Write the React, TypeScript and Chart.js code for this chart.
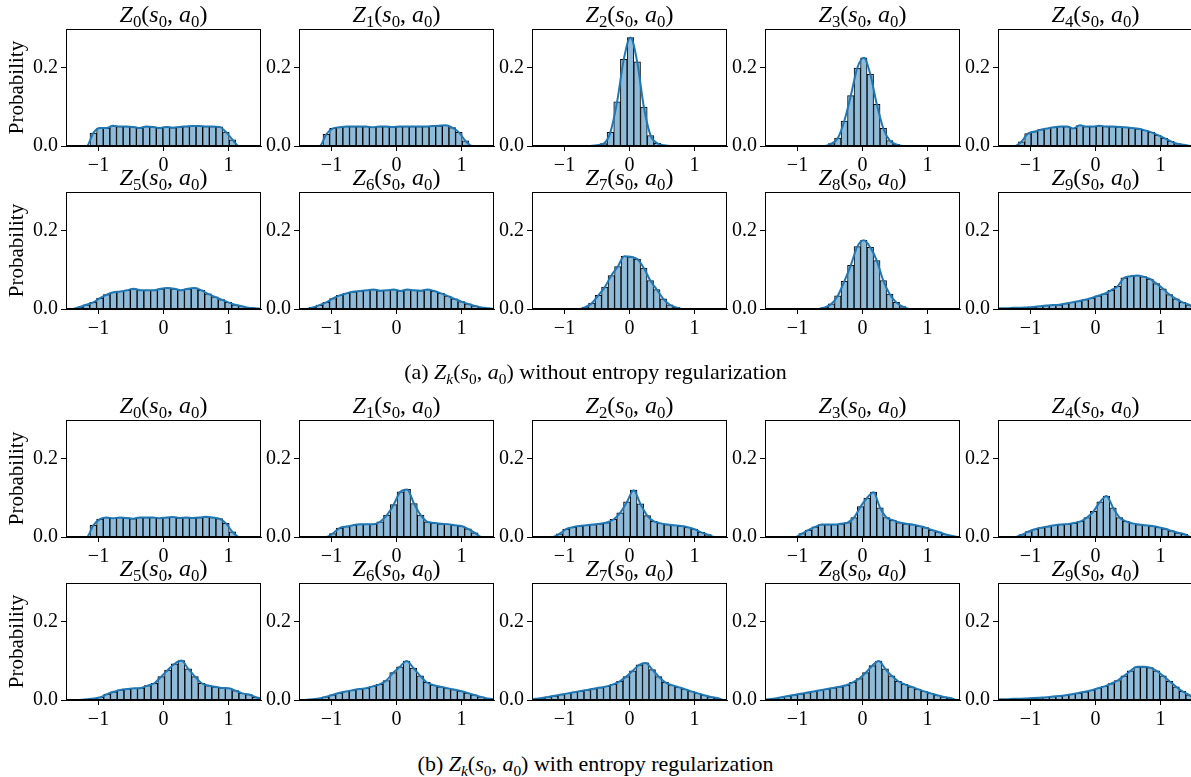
import React, { useEffect, useRef } from 'react';
import { Chart, registerables } from 'chart.js';
Chart.register(...registerables);

// ---------- axes ----------
const X_TICKS = [-1, 0, 1];
const Y_TICKS = [0, 0.2];
const X_MIN = -1.5;
const X_MAX = 1.5;
const Y_MIN = 0;
const Y_MAX = 0.3;
const TITLE_K = [0, 1, 2, 3, 4, 5, 6, 7, 8, 9];
const CAPTION_A = 'without entropy regularization';
const CAPTION_B = 'with entropy regularization';

// ---------- (a) without entropy regularization ----------
const A0_START = -1.08; const A0_WIDTH = 0.102;
const A0 = [0.033, 0.046, 0.046, 0.052, 0.05, 0.05, 0.049, 0.046, 0.05, 0.049, 0.046, 0.049, 0.047, 0.049, 0.05, 0.051, 0.051, 0.05, 0.05, 0.049, 0.036, 0.016];
const A1_START = -1.08; const A1_WIDTH = 0.102;
const A1 = [0.03, 0.045, 0.048, 0.05, 0.05, 0.05, 0.05, 0.048, 0.05, 0.05, 0.049, 0.05, 0.05, 0.05, 0.05, 0.05, 0.051, 0.052, 0.053, 0.047, 0.035, 0.013];
const A2_START = -0.5; const A2_WIDTH = 0.103;
const A2 = [0.002, 0.006, 0.035, 0.113, 0.222, 0.278, 0.216, 0.1, 0.027, 0.007, 0.002];
const A3_START = -0.48; const A3_WIDTH = 0.1;
const A3 = [0.006, 0.02, 0.064, 0.129, 0.2, 0.226, 0.184, 0.107, 0.045, 0.014, 0.004];
const A4_START = -1.14; const A4_WIDTH = 0.1;
const A4 = [0.011, 0.032, 0.037, 0.042, 0.045, 0.048, 0.05, 0.05, 0.045, 0.053, 0.05, 0.05, 0.052, 0.05, 0.05, 0.049, 0.048, 0.046, 0.044, 0.04, 0.035, 0.028, 0.02, 0.012, 0.006, 0.003];
const A5_START = -1.29; const A5_WIDTH = 0.104;
const A5 = [0.005, 0.011, 0.017, 0.028, 0.037, 0.043, 0.045, 0.048, 0.052, 0.048, 0.048, 0.048, 0.052, 0.054, 0.052, 0.048, 0.052, 0.054, 0.048, 0.039, 0.031, 0.024, 0.017, 0.011, 0.007, 0.003, 0.002];
const A6_START = -1.29; const A6_WIDTH = 0.104;
const A6 = [0.004, 0.01, 0.017, 0.027, 0.035, 0.04, 0.044, 0.046, 0.048, 0.05, 0.047, 0.048, 0.05, 0.046, 0.05, 0.048, 0.047, 0.05, 0.046, 0.04, 0.033, 0.026, 0.019, 0.013, 0.008, 0.004, 0.002];
const A7_START = -0.68; const A7_WIDTH = 0.1;
const A7 = [0.005, 0.015, 0.035, 0.056, 0.086, 0.109, 0.135, 0.134, 0.128, 0.105, 0.073, 0.05, 0.026, 0.011, 0.004];
const A8_START = -0.58; const A8_WIDTH = 0.1;
const A8 = [0.004, 0.013, 0.034, 0.071, 0.112, 0.16, 0.176, 0.158, 0.124, 0.073, 0.038, 0.017, 0.006];
const A9_START = -1.46; const A9_WIDTH = 0.1;
const A9 = [0.002, 0.002, 0.003, 0.003, 0.004, 0.005, 0.007, 0.009, 0.01, 0.011, 0.014, 0.017, 0.02, 0.024, 0.028, 0.034, 0.039, 0.048, 0.058, 0.08, 0.084, 0.086, 0.083, 0.077, 0.065, 0.052, 0.037, 0.026, 0.017, 0.011];

// ---------- (b) with entropy regularization ----------
const B0_START = -1.08; const B0_WIDTH = 0.102;
const B0 = [0.03, 0.046, 0.05, 0.048, 0.05, 0.049, 0.047, 0.05, 0.05, 0.05, 0.048, 0.05, 0.051, 0.049, 0.05, 0.049, 0.05, 0.052, 0.05, 0.047, 0.035, 0.013];
const B1_START = -0.98; const B1_WIDTH = 0.104;
const B1 = [0.009, 0.023, 0.027, 0.03, 0.033, 0.033, 0.033, 0.039, 0.056, 0.083, 0.116, 0.122, 0.086, 0.056, 0.039, 0.036, 0.034, 0.033, 0.03, 0.028, 0.021, 0.011];
const B2_START = -1.08; const B2_WIDTH = 0.104;
const B2 = [0.008, 0.02, 0.025, 0.028, 0.03, 0.032, 0.034, 0.037, 0.045, 0.062, 0.09, 0.12, 0.085, 0.055, 0.04, 0.035, 0.032, 0.03, 0.028, 0.025, 0.02, 0.012, 0.006];
const B3_START = -0.93; const B3_WIDTH = 0.1;
const B3 = [0.009, 0.018, 0.026, 0.032, 0.032, 0.032, 0.034, 0.037, 0.05, 0.078, 0.1, 0.115, 0.075, 0.05, 0.043, 0.037, 0.034, 0.032, 0.028, 0.024, 0.018, 0.013, 0.007, 0.003];
const B4_START = -1.13; const B4_WIDTH = 0.1;
const B4 = [0.006, 0.014, 0.02, 0.024, 0.027, 0.03, 0.032, 0.033, 0.036, 0.04, 0.05, 0.066, 0.09, 0.105, 0.075, 0.05, 0.04, 0.035, 0.032, 0.03, 0.028, 0.025, 0.021, 0.016, 0.011, 0.007];
const B5_START = -1.18; const B5_WIDTH = 0.104;
const B5 = [0.002, 0.004, 0.007, 0.015, 0.021, 0.026, 0.028, 0.03, 0.031, 0.037, 0.043, 0.06, 0.077, 0.093, 0.101, 0.08, 0.06, 0.043, 0.037, 0.034, 0.031, 0.03, 0.024, 0.017, 0.014, 0.007, 0.003];
const B6_START = -1.3; const B6_WIDTH = 0.104;
const B6 = [0.002, 0.004, 0.008, 0.013, 0.018, 0.022, 0.025, 0.028, 0.03, 0.035, 0.04, 0.05, 0.07, 0.085, 0.1, 0.082, 0.062, 0.045, 0.038, 0.034, 0.03, 0.027, 0.023, 0.018, 0.013, 0.008, 0.004, 0.002];
const B7_START = -1.45; const B7_WIDTH = 0.1;
const B7 = [0.003, 0.005, 0.008, 0.011, 0.014, 0.017, 0.02, 0.023, 0.026, 0.029, 0.032, 0.035, 0.04, 0.048, 0.06, 0.075, 0.09, 0.095, 0.078, 0.06, 0.045, 0.038, 0.033, 0.028, 0.022, 0.017, 0.012, 0.008, 0.005];
const B8_START = -1.45; const B8_WIDTH = 0.1;
const B8 = [0.002, 0.004, 0.007, 0.01, 0.013, 0.016, 0.019, 0.022, 0.025, 0.028, 0.031, 0.034, 0.038, 0.045, 0.055, 0.07, 0.088, 0.1, 0.08, 0.062, 0.048, 0.04, 0.034, 0.028, 0.022, 0.017, 0.012, 0.008, 0.005];
const B9_START = -1.46; const B9_WIDTH = 0.1;
const B9 = [0.002, 0.002, 0.003, 0.003, 0.004, 0.005, 0.006, 0.007, 0.009, 0.01, 0.012, 0.015, 0.018, 0.021, 0.025, 0.03, 0.035, 0.042, 0.05, 0.062, 0.075, 0.085, 0.085, 0.083, 0.075, 0.062, 0.048, 0.034, 0.022, 0.013];

type Hist = { start: number; width: number; values: number[] };
const GROUP_A: Hist[] = [
  { start: A0_START, width: A0_WIDTH, values: A0 },
  { start: A1_START, width: A1_WIDTH, values: A1 },
  { start: A2_START, width: A2_WIDTH, values: A2 },
  { start: A3_START, width: A3_WIDTH, values: A3 },
  { start: A4_START, width: A4_WIDTH, values: A4 },
  { start: A5_START, width: A5_WIDTH, values: A5 },
  { start: A6_START, width: A6_WIDTH, values: A6 },
  { start: A7_START, width: A7_WIDTH, values: A7 },
  { start: A8_START, width: A8_WIDTH, values: A8 },
  { start: A9_START, width: A9_WIDTH, values: A9 },
];
const GROUP_B: Hist[] = [
  { start: B0_START, width: B0_WIDTH, values: B0 },
  { start: B1_START, width: B1_WIDTH, values: B1 },
  { start: B2_START, width: B2_WIDTH, values: B2 },
  { start: B3_START, width: B3_WIDTH, values: B3 },
  { start: B4_START, width: B4_WIDTH, values: B4 },
  { start: B5_START, width: B5_WIDTH, values: B5 },
  { start: B6_START, width: B6_WIDTH, values: B6 },
  { start: B7_START, width: B7_WIDTH, values: B7 },
  { start: B8_START, width: B8_WIDTH, values: B8 },
  { start: B9_START, width: B9_WIDTH, values: B9 },
];

// ---------- layout ----------
const FONT = "'Liberation Serif', 'Times New Roman', serif";
const COL_LEFT = [66, 299, 532, 765, 998];
const ROW_TOP = [29, 192, 420, 583];
const PLOT_W = 195;
const PLOT_H = 117;
const PAD_T = 4;
const PAD_R = 4;
const AXIS_Y_W = 40;
const AXIS_X_H = 34;
const BAR_FILL = '#8fbbd9';
const LINE_COLOR = '#1f77b4';

const framePlugin = {
  id: 'frame',
  afterDatasetsDraw(chart: any) {
    const { ctx, chartArea } = chart;
    ctx.save();
    ctx.strokeStyle = '#000';
    ctx.lineWidth = 1;
    ctx.strokeRect(chartArea.left + 0.5, chartArea.top + 0.5, chartArea.right - chartArea.left - 1, chartArea.bottom - chartArea.top - 1);
    ctx.restore();
  },
};

function fmtX(v: number) {
  return v < 0 ? '\u2212' + Math.abs(v) : String(v);
}

function Panel({ col, row, hist }: { col: number; row: number; hist: Hist }) {
  const ref = useRef<HTMLCanvasElement>(null);
  const plotLeft = COL_LEFT[col];
  const plotTop = ROW_TOP[row];
  const yW = col === 0 ? plotLeft : AXIS_Y_W;
  const cLeft = plotLeft - yW;
  const cTop = plotTop - PAD_T;
  const cW = yW + PLOT_W + PAD_R;
  const cH = PAD_T + PLOT_H + AXIS_X_H;

  useEffect(() => {
    if (!ref.current) return;
    const { start, width, values } = hist;
    const n = values.length;
    const bars = values.map((v, i) => ({ x: start + i * width, y: v }));
    const line = [
      { x: start - 2 * width, y: 0 },
      { x: start - width, y: 0 },
      ...bars,
      { x: start + n * width, y: 0 },
      { x: start + (n + 1) * width, y: 0 },
    ];
    const tickFont = { family: FONT, size: 20 };
    const chart = new Chart(ref.current, {
      type: 'bar',
      data: {
        datasets: [
          {
            type: 'line',
            data: line,
            borderColor: LINE_COLOR,
            borderWidth: 2,
            pointRadius: 0,
            cubicInterpolationMode: 'monotone',
            fill: false,
            order: 0,
          } as any,
          {
            type: 'bar',
            data: bars,
            backgroundColor: BAR_FILL,
            borderColor: '#000',
            borderWidth: 1,
            barPercentage: 1,
            categoryPercentage: 1,
            order: 1,
          } as any,
        ],
      },
      options: {
        animation: false,
        responsive: false,
        devicePixelRatio: 1,
        events: [],
        layout: { padding: { top: PAD_T, right: PAD_R, left: 0, bottom: 0 } },
        plugins: { legend: { display: false }, tooltip: { enabled: false }, title: { display: false } },
        scales: {
          x: {
            type: 'linear',
            min: X_MIN,
            max: X_MAX,
            offset: false,
            afterBuildTicks: (s: any) => { s.ticks = X_TICKS.map((v) => ({ value: v })); },
            afterFit: (s: any) => { s.height = AXIS_X_H; s.paddingLeft = 0; s.paddingRight = 0; },
            ticks: { font: tickFont, color: '#000', padding: 3, maxRotation: 0, autoSkip: false, callback: (v: any) => fmtX(Number(v)) },
            grid: { display: true, drawOnChartArea: false, drawTicks: true, tickLength: 5, tickColor: '#000', tickWidth: 1, offset: false },
            border: { display: true, color: '#000', width: 1 },
          },
          y: {
            type: 'linear',
            min: Y_MIN,
            max: Y_MAX,
            afterBuildTicks: (s: any) => { s.ticks = Y_TICKS.map((v) => ({ value: v })); },
            afterFit: (s: any) => { s.width = yW; s.paddingTop = 0; s.paddingBottom = 0; },
            ticks: { font: tickFont, color: '#000', padding: 3, callback: (v: any) => Number(v).toFixed(1) },
            grid: { display: true, drawOnChartArea: false, drawTicks: true, tickLength: 5, tickColor: '#000', tickWidth: 1 },
            border: { display: true, color: '#000', width: 1 },
            title: { display: col === 0, text: 'Probability', color: '#000', font: { family: FONT, size: 21 }, padding: { top: 5, bottom: 0 } },
          },
        },
      } as any,
      plugins: [framePlugin],
    });
    return () => chart.destroy();
  }, []);

  return (
    <canvas
      ref={ref}
      width={cW}
      height={cH}
      style={{ position: 'absolute', left: cLeft, top: cTop, width: cW, height: cH }}
    />
  );
}

const subStyle: React.CSSProperties = { fontSize: '0.7em', position: 'relative', top: '0.3em', fontStyle: 'normal' };
const subItalic: React.CSSProperties = { fontSize: '0.7em', position: 'relative', top: '0.3em', fontStyle: 'italic' };

function PanelTitle({ col, row, k }: { col: number; row: number; k: number }) {
  return (
    <div
      style={{
        position: 'absolute',
        left: COL_LEFT[col] - 40,
        width: PLOT_W + 80,
        top: ROW_TOP[row] - 27,
        height: 26,
        lineHeight: '24px',
        textAlign: 'center',
        fontFamily: FONT,
        fontSize: 24,
        color: '#000',
        whiteSpace: 'nowrap',
      }}
    >
      <i>Z</i><span style={subStyle}>{k}</span>(<i>s</i><span style={subStyle}>0</span>, <i>a</i><span style={subStyle}>0</span>)
    </div>
  );
}

function Caption({ top, letter, text }: { top: number; letter: string; text: string }) {
  return (
    <div
      style={{
        position: 'absolute',
        left: 0,
        width: 1191,
        top,
        lineHeight: '26px',
        textAlign: 'center',
        fontFamily: FONT,
        fontSize: 22,
        color: '#000',
        whiteSpace: 'nowrap',
      }}
    >
      ({letter}) <i>Z</i><span style={subItalic}>k</span>(<i>s</i><span style={subStyle}>0</span>, <i>a</i><span style={subStyle}>0</span>) {text}
    </div>
  );
}

export default function App() {
  const panels: { col: number; row: number; hist: Hist; k: number }[] = [];
  GROUP_A.forEach((h, i) => panels.push({ col: i % 5, row: Math.floor(i / 5), hist: h, k: TITLE_K[i] }));
  GROUP_B.forEach((h, i) => panels.push({ col: i % 5, row: 2 + Math.floor(i / 5), hist: h, k: TITLE_K[i] }));
  return (
    <div style={{ position: 'absolute', left: 0, top: 0, width: 1191, height: 777, overflow: 'hidden', background: '#fff' }}>
      {panels.map((p, i) => (
        <Panel key={'p' + i} col={p.col} row={p.row} hist={p.hist} />
      ))}
      {panels.map((p, i) => (
        <PanelTitle key={'t' + i} col={p.col} row={p.row} k={p.k} />
      ))}
      <Caption top={359} letter="a" text={CAPTION_A} />
      <Caption top={751} letter="b" text={CAPTION_B} />
    </div>
  );
}
